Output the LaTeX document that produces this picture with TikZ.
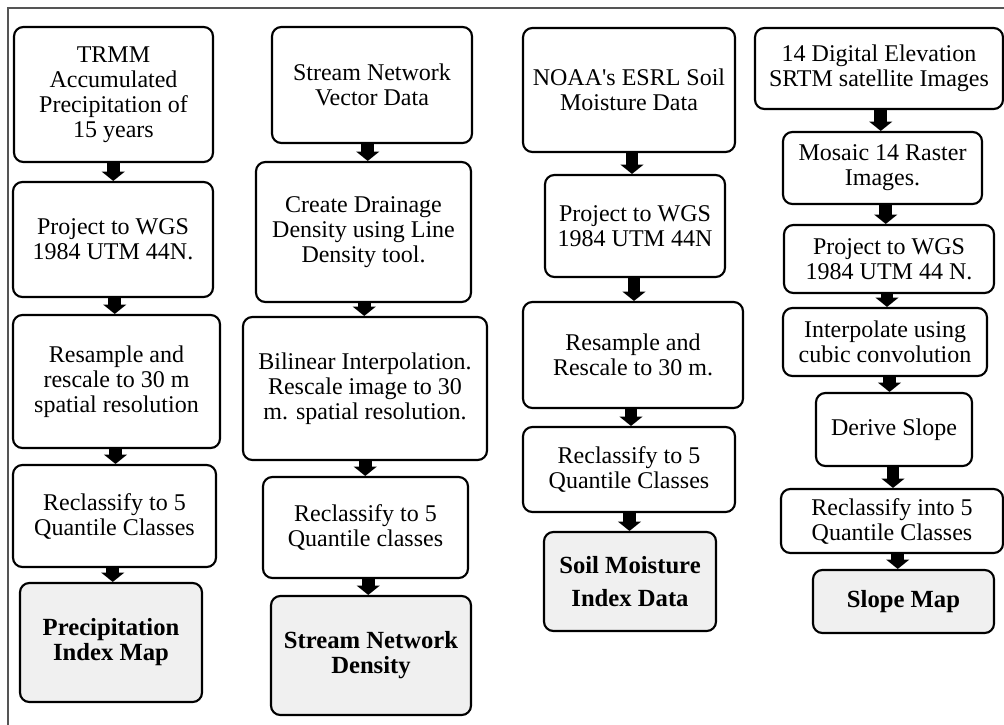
\documentclass[tikz,border=0pt]{standalone}
\usepackage{fontspec}
\setmainfont{Liberation Serif}[Ligatures=TeXOff]
\usetikzlibrary{arrows.meta,calc}
\definecolor{mapfill}{HTML}{F0F0F0}
\definecolor{framecol}{HTML}{555555}
\tikzset{
  procbox/.style={draw=black, line width=1.6pt, rounded corners=7pt, fill=white,
    align=center, inner sep=1pt, font=\fontsize{18}{18.75}\selectfont},
  mapbox/.style={procbox, fill=mapfill, font=\fontsize{18.5}{18.75}\selectfont\bfseries},
  flowarrow/.style={draw=black, line width=9.5pt, -{Triangle[width=17pt,length=7pt]}},
}
\newcommand\bx[7]{\node[#6, minimum width={(#4-#2)*0.75pt}, minimum height={(#5-#3)*0.75pt}] (#1) at ({(#2+#4)/2},{(#3+#5)/2}) {#7};}
\newcommand\flowto[2]{\path ($(#1.south)!0.5!(#2.north)$) coordinate (m#1);
  \draw[flowarrow] (#1.south -| m#1) -- (#2.north -| m#1);}
\begin{document}
\begin{tikzpicture}[x=0.75pt,y=-0.75pt]
\useasboundingbox (0,0) rectangle (1004,725);
\draw[framecol, line width=0.8pt] (8,725) -- (8,8) -- (1004,8);
% column 1
\bx{A1}{14}{27}{213}{162}{procbox}{TRMM\\Accumulated\\Precipitation of\\15 years}
\bx{A2}{13}{182}{213}{297}{procbox}{Project to WGS\\1984 UTM 44N.}
\bx{A3}{13}{315}{220}{448}{procbox}{Resample and\\rescale to 30 m\\spatial resolution}
\bx{A4}{13}{465}{216}{567}{procbox}{Reclassify to 5\\Quantile Classes}
\bx{A5}{20}{583}{202}{702}{mapbox}{Precipitation\\Index Map}
% column 2
\bx{B1}{272}{27}{472}{143}{procbox}{Stream Network\\Vector Data}
\bx{B2}{256}{162}{471}{302}{procbox}{Create Drainage\\Density using Line\\Density tool.}
\bx{B3}{243}{317}{487}{460}{procbox}{Bilinear Interpolation.\\Rescale image to 30\\m. spatial resolution.}
\bx{B4}{263}{477}{468}{578}{procbox}{Reclassify to 5\\Quantile classes}
\bx{B5}{271}{596}{471}{715}{mapbox}{Stream Network\\Density}
% column 3
\bx{C1}{523}{28}{735}{152}{procbox}{NOAA's ESRL Soil\\Moisture Data}
\bx{C2}{545}{175}{725}{277}{procbox}{Project to WGS\\1984 UTM 44N}
\bx{C3}{523}{302}{743}{408}{procbox}{Resample and\\Rescale to 30 m.}
\bx{C4}{523}{427}{735}{512}{procbox}{Reclassify to 5\\Quantile Classes}
\bx{C5}{544}{532}{716}{631}{mapbox}{Soil Moisture\\[6pt]Index Data}
% column 4
\bx{D1}{755}{28}{1003}{109}{procbox}{14 Digital Elevation\\SRTM satellite Images}
\bx{D2}{783}{132}{982}{204}{procbox}{Mosaic 14 Raster\\Images.}
\bx{D3}{784}{225}{994}{293}{procbox}{Project to WGS\\1984 UTM 44 N.}
\bx{D4}{783}{308}{987}{376}{procbox}{Interpolate using\\cubic convolution}
\bx{D5}{816}{393}{972}{466}{procbox}{Derive Slope}
\bx{D6}{781}{489}{1003}{553}{procbox}{Reclassify into 5\\Quantile Classes}
\bx{D7}{813}{570}{994}{633}{mapbox}{Slope Map}
% arrows
\flowto{A1}{A2}\flowto{A2}{A3}\flowto{A3}{A4}\flowto{A4}{A5}
\flowto{B1}{B2}\flowto{B2}{B3}\flowto{B3}{B4}\flowto{B4}{B5}
\flowto{C1}{C2}\flowto{C2}{C3}\flowto{C3}{C4}\flowto{C4}{C5}
\flowto{D1}{D2}\flowto{D2}{D3}\flowto{D3}{D4}\flowto{D4}{D5}\flowto{D5}{D6}\flowto{D6}{D7}
\end{tikzpicture}
\end{document}
